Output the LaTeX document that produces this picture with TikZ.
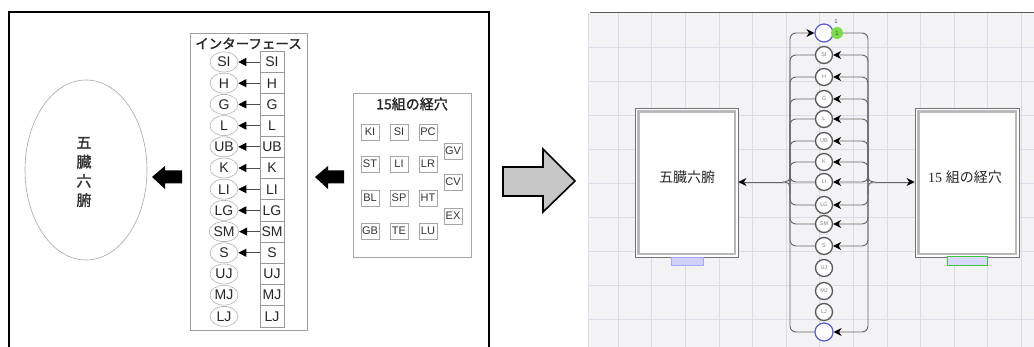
\documentclass[tikz,border=0pt]{standalone}
\usepackage{fontspec}
\setmainfont{Liberation Sans}
\newfontfamily\jp{Noto Sans CJK JP}
\newfontfamily\jpb[FakeBold=1.5]{Noto Sans CJK JP}
\newfontfamily\rmser{Liberation Serif}
\usetikzlibrary{arrows.meta,shapes.geometric}
\definecolor{pblue}{HTML}{5A5AD8}
\definecolor{pgreen}{HTML}{7DDC4A}
\definecolor{bgpanel}{HTML}{F3F3F5}
\definecolor{gridc}{HTML}{DCDCE6}
\tikzset{
  ifell/.style={ellipse, draw=gray!60, line width=0.6pt, minimum width=28pt, minimum height=20pt, inner sep=0pt, font=\fontsize{14}{14}\selectfont, text=black!85},
  ifbox/.style={draw=gray!80, line width=0.8pt, minimum width=24pt, minimum height=21.2pt, inner sep=0pt, font=\fontsize{14}{14}\selectfont, text=black!85},
  smbox/.style={draw=gray!70, line width=0.7pt, minimum width=18pt, minimum height=16pt, inner sep=0pt, font=\fontsize{11}{11}\selectfont, text=black!80},
  pcirc/.style={circle, draw=black!65, line width=1.3pt, fill=white, minimum size=17pt, inner sep=0pt, font=\fontsize{5.5}{5.5}\selectfont, text=gray},
  bcirc/.style={circle, draw=pblue, line width=1.2pt, fill=white, minimum size=18pt, inner sep=0pt},
  con/.style={draw=black!60, line width=0.9pt, rounded corners=6pt},
  ahead/.style={-{Stealth[length=8pt,width=8pt,black]}},
}
\begin{document}
\begin{tikzpicture}[x=1pt,y=-1pt]
\useasboundingbox (0,0) rectangle (1034,347);
\fill[white] (0,0) rectangle (1034,347);

% ---------------- left panel ----------------
\draw[line width=1.5pt] (9,347) -- (9,12) -- (489,12) -- (489,347);

\node[ellipse, draw=gray!70, line width=0.6pt, minimum width=122pt, minimum height=180pt] (organs) at (86,170) {};
\node[align=center, font=\jpb\fontsize{15}{19.2}\selectfont, text=black!80] (organsT) at (84,172) {五\\臓\\六\\腑};

% black block arrows
\fill[black] (152,177) -- (165,166) -- (165,170.5) -- (182,170.5) -- (182,183.5) -- (165,183.5) -- (165,189) -- cycle;
\fill[black] (315,177) -- (328,166) -- (328,170.5) -- (344,170.5) -- (344,183.5) -- (328,183.5) -- (328,189) -- cycle;

% interface box
\node[draw=gray!75, line width=0.8pt, minimum width=117pt, minimum height=297pt, inner sep=0pt] (iface) at (248.5,181.5) {};
\node[font=\jpb\fontsize{13.5}{13.5}\selectfont, text=black!85] (ifaceT) at (248.5,43.5) {インターフェース};

\foreach \t [count=\i from 0] in {SI,H,G,L,UB,K,LI,LG,SM,S,UJ,MJ,LJ} {
  \pgfmathsetmacro\yy{62+21.2*\i}
  \node[ifell] (e\i) at (224,\yy) {\t};
  \node[ifbox] (b\i) at (272,\yy) {\t};
}
\foreach \i in {0,...,9} {
  \draw[draw=black!70, line width=0.7pt, -{Triangle[length=8pt,width=8pt,black]}] (b\i.west) -- (e\i.east);
}

% 15 pairs box
\node[draw=gray!70, line width=0.8pt, minimum width=118pt, minimum height=164pt, inner sep=0pt] (acu) at (412,175) {};
\node[font=\jpb\fontsize{14}{14}\selectfont, text=black!85] (acuT) at (412,104) {15組の経穴};
\node[smbox] (kKI) at (370,132) {KI};
\node[smbox] (kSI) at (399,132) {SI};
\node[smbox] (kPC) at (428,132) {PC};
\node[smbox] (kGV) at (453,151) {GV};
\node[smbox] (kST) at (370,164) {ST};
\node[smbox] (kLI) at (399,164) {LI};
\node[smbox] (kLR) at (428,164) {LR};
\node[smbox] (kCV) at (453,182) {CV};
\node[smbox] (kBL) at (370,198) {BL};
\node[smbox] (kSP) at (399,198) {SP};
\node[smbox] (kHT) at (428,198) {HT};
\node[smbox] (kEX) at (453,216) {EX};
\node[smbox] (kGB) at (370,231) {GB};
\node[smbox] (kTE) at (399,231) {TE};
\node[smbox] (kLU) at (428,231) {LU};

% gray transition arrow
\draw[fill=gray!45, line width=1.6pt, line join=miter] (503,167) -- (543,167) -- (543,149) -- (575,181) -- (543,212) -- (543,196) -- (503,196) -- cycle;

% ---------------- right panel ----------------
\fill[bgpanel] (588,13) rectangle (1034,347);
\foreach \k in {0,...,12} { \draw[gridc, line width=0.6pt] ({618+33.6*\k},13) -- ({618+33.6*\k},347); }
\foreach \k in {0,...,8} { \draw[gridc, line width=0.6pt] (588,{47+34*\k}) -- (1034,{47+34*\k}); }
\draw[gridc, line width=0.8pt] (588,13) -- (588,347);
\draw[black!65, line width=1pt] (590,13) -- (1034,13);

% boxes
\node[draw=black!55, line width=0.9pt, fill=white, minimum width=103pt, minimum height=149pt, inner sep=0pt] (lbox) at (686.5,182.5) {};
\draw[gray!55, line width=2.5pt] ([shift={(4,4)}]lbox.north west) rectangle ([shift={(-3.5,-3.5)}]lbox.south east);
\node[font=\jp\fontsize{14}{14}\selectfont, text=black!85] (lboxT) at (687,177) {五臓六腑};
\node[fill=blue!18, draw=blue!35, line width=0.6pt, minimum width=32pt, minimum height=8pt, inner sep=0pt] (llab) at (687,261) {};

\node[draw=black!55, line width=0.9pt, fill=white, minimum width=104pt, minimum height=149pt, inner sep=0pt] (rbox) at (967,182.5) {};
\draw[gray!55, line width=2.5pt] ([shift={(4,4)}]rbox.north west) rectangle ([shift={(-3.5,-3.5)}]rbox.south east);
\node[font=\fontsize{14}{14}\selectfont, text=black!85] (rboxT) at (965,177) {{\rmser 15} {\jp 組の経穴}};
\node[fill=blue!15, draw=green!55!gray, line width=1pt, minimum width=40pt, minimum height=9pt, inner sep=0pt] (rlab) at (967,261.5) {};

% circles
\node[bcirc] (c0) at (824,33) {};
\node[circle, fill=pgreen, minimum size=12pt, inner sep=0pt, font=\fontsize{6}{6}\selectfont, text=gray!60!black] (g1) at (837,33) {1};
\node[font=\fontsize{6}{6}\selectfont, text=black!70] (g1lab) at (836,21) {1};
\foreach \t/\yy [count=\i] in {SI/55,H/77,G/99,L/119,UB/141,K/162,LI/182,LG/205,SM/224,S/246,UJ/268,MJ/291,LJ/312} {
  \node[pcirc] (c\i) at (824,\yy) {\t};
}
\node[bcirc] (c14) at (824,332) {};

% brace junctions
\coordinate (lj) at (783,182);
\coordinate (rj) at (875,182);
\coordinate (lt) at (790,182);
\coordinate (rt) at (868,182);

% left side branches
\draw[con, ahead] (lt) -- (790,33) -- (c0.west);
\foreach \i in {1,...,10} {
  \draw[con] (lt) |- (c\i.west);
}
\draw[con] (lt) |- (c14.west);
\draw[con, rounded corners=5pt] (790,170) -- (lt) -- (lj);
\draw[con, rounded corners=5pt] (790,194) -- (lt) -- (lj);
\draw[con, ahead, rounded corners=0pt] (lj) -- (lbox.east |- lj);

% right side branches
\draw[con] (g1.east) -| (rt);
\foreach \i in {1,...,10} {
  \draw[con, ahead] (rt) |- (c\i.east);
}
\draw[con, ahead] (rt) |- (c14.east);
\draw[con, rounded corners=5pt] (868,170) -- (rt) -- (rj);
\draw[con, rounded corners=5pt] (868,194) -- (rt) -- (rj);
\draw[con, ahead, rounded corners=0pt] (rj) -- (rbox.west |- rj);

\end{tikzpicture}
\end{document}
